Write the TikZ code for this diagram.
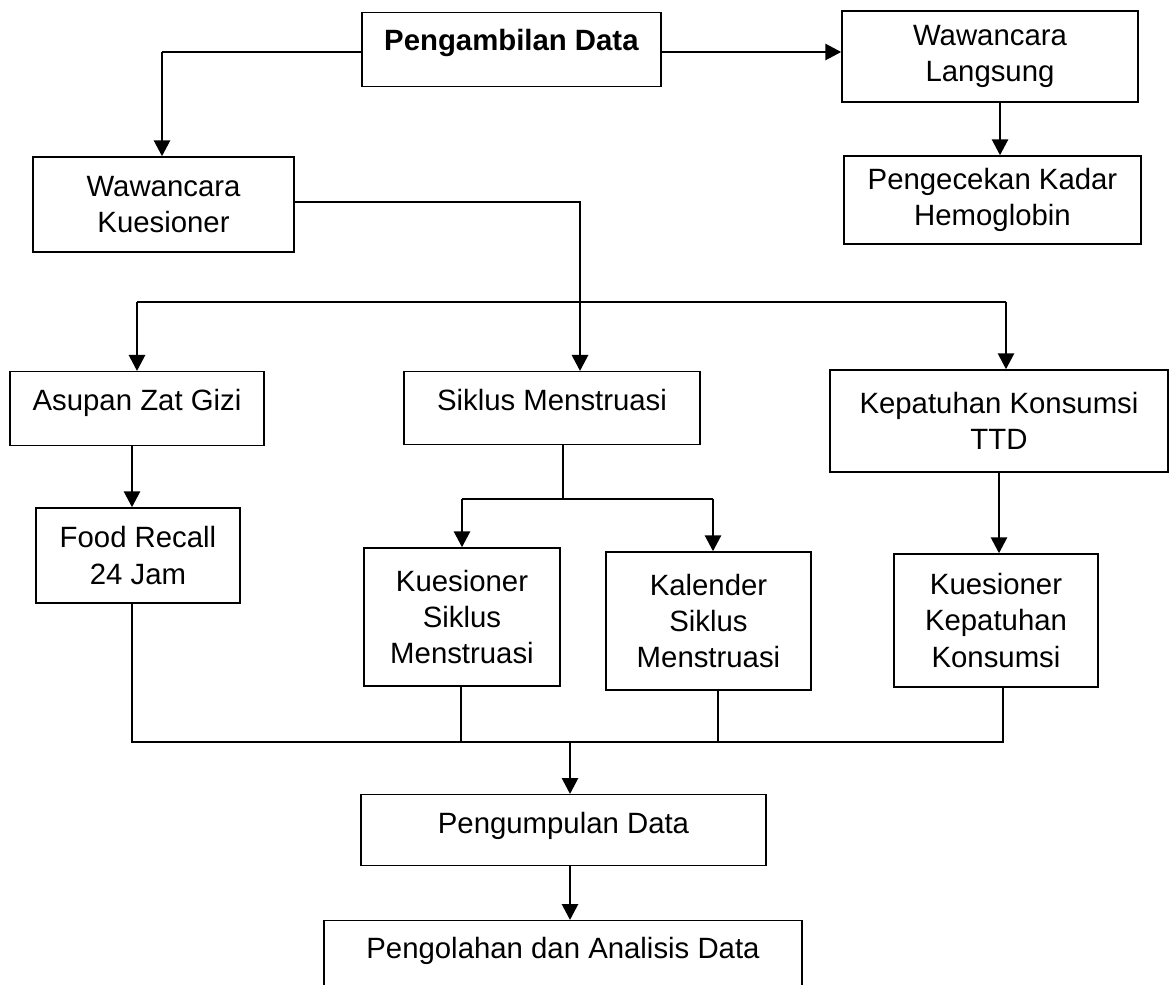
\documentclass[tikz,border=0pt]{standalone}
\usepackage{fontspec}
\setmainfont{Liberation Sans}
\usetikzlibrary{arrows.meta, positioning}

\begin{document}
\begin{tikzpicture}[
    box/.style = {
        draw,
        line width=0.8pt,
        align=center,
        font=\fontsize{16.7pt}{20.5pt}\selectfont,
        inner sep=0pt
    },
    satu/.style = {
        box,
        anchor=north,
        text height=0.77cm,
        text depth=#1
    },
    line/.style = {line width=0.7pt},
    arrow/.style = {-{Triangle[length=0.32cm, width=0.32cm]}, line width=1.6pt}
]

\useasboundingbox (0,0) rectangle (23.38,-19.7);

%% ── Simpul ──────────────────────────────────────────────────────────────────

\node[satu=0.73cm, text height=0.75cm, minimum width=5.98cm] at (10.23,-0.24) (ambil)
    {\textbf{Pengambilan Data}};

\node[box, minimum width=5.92cm, minimum height=1.82cm] at (19.8,-1.13) (langsung)
    {Wawancara\\Langsung};

\node[box, minimum width=5.94cm, minimum height=1.76cm] at (19.85,-4.0) (hb)
    {Pengecekan Kadar\\Hemoglobin};

\node[box, minimum width=5.22cm, minimum height=1.9cm] at (3.27,-4.09) (kues)
    {Wawancara\\Kuesioner};

\node[satu=0.71cm, minimum width=5.08cm] at (2.74,-7.42) (gizi)
    {Asupan Zat Gizi};

\node[satu=0.69cm, minimum width=5.92cm] at (11.04,-7.42) (siklus)
    {Siklus Menstruasi};

\node[box, minimum width=6.76cm, minimum height=2.04cm] at (19.98,-8.42) (ttd)
    {Kepatuhan Konsumsi\\TTD};

\node[box, minimum width=4.08cm, minimum height=1.9cm] at (2.76,-11.11) (recall)
    {Food Recall\\24 Jam};

\node[box, minimum width=3.92cm, minimum height=2.76cm] at (9.24,-12.34) (ksiklus)
    {Kuesioner\\Siklus\\Menstruasi};

\node[box, minimum width=4.1cm, minimum height=2.76cm] at (14.17,-12.42) (kalender)
    {Kalender\\Siklus\\Menstruasi};

\node[box, minimum width=4.08cm, minimum height=2.66cm] at (19.92,-12.41) (kpatuh)
    {Kuesioner\\Kepatuhan\\Konsumsi};

\node[satu=0.65cm, minimum width=8.1cm] at (11.27,-15.88) (kumpul)
    {Pengumpulan Data};

\node[satu=1.0cm, text height=0.75cm, minimum width=9.56cm] at (11.26,-18.4) (olah)
    {Pengolahan dan Analisis Data};

%% ── Titik cabang ────────────────────────────────────────────────────────────

\coordinate (ka) at (3.24,-1.04);
\coordinate (lb) at (20.0,-2.04);
\coordinate (kb) at (11.6,-4.04);
\coordinate (sa) at (2.74,-6.04);
\coordinate (sb) at (11.6,-6.04);
\coordinate (sc) at (20.12,-6.04);
\coordinate (ma) at (11.26,-9.98);
\coordinate (mb) at (9.24,-9.98);
\coordinate (mc) at (14.26,-9.98);
\coordinate (ba) at (2.64,-14.84);
\coordinate (bb) at (9.22,-14.84);
\coordinate (bc) at (14.36,-14.84);
\coordinate (bd) at (20.06,-14.84);
\coordinate (bm) at (11.4,-14.84);

%% ── Panah ───────────────────────────────────────────────────────────────────

\draw[line]  (ambil.west |- ka) -- (ka);
\draw[arrow] (ka) -- (ka |- kues.north);
\draw[arrow] (ambil.east |- ka) -- (langsung.west |- ka);
\draw[arrow] (lb) -- (lb |- hb.north);

\draw[line]  (kues.east |- kb) -- (kb) -- (sb);
\draw[line]  (sa) -- (sc);
\draw[arrow] (sa) -- (gizi.north);
\draw[arrow] (sb) -- (sb |- siklus.north);
\draw[arrow] (sc) -- (sc |- ttd.north);

\draw[arrow] (ba |- gizi.south) -- (ba |- recall.north);
\draw[line]  (ma |- siklus.south) -- (ma);
\draw[line]  (mb) -- (mc);
\draw[arrow] (mb) -- (mb |- ksiklus.north);
\draw[arrow] (mc) -- (mc |- kalender.north);
\draw[arrow] (ttd.south) -- (ttd.south |- kpatuh.north);

%% ── Gabungan ke pengumpulan data ────────────────────────────────────────────

\draw[line]  (ba |- recall.south) -- (ba) -- (bd) -- (bd |- kpatuh.south);
\draw[line]  (bb |- ksiklus.south) -- (bb);
\draw[line]  (bc |- kalender.south) -- (bc);
\draw[arrow] (bm) -- (bm |- kumpul.north);
\draw[arrow] (bm |- kumpul.south) -- (bm |- olah.north);

\end{tikzpicture}
\end{document}
